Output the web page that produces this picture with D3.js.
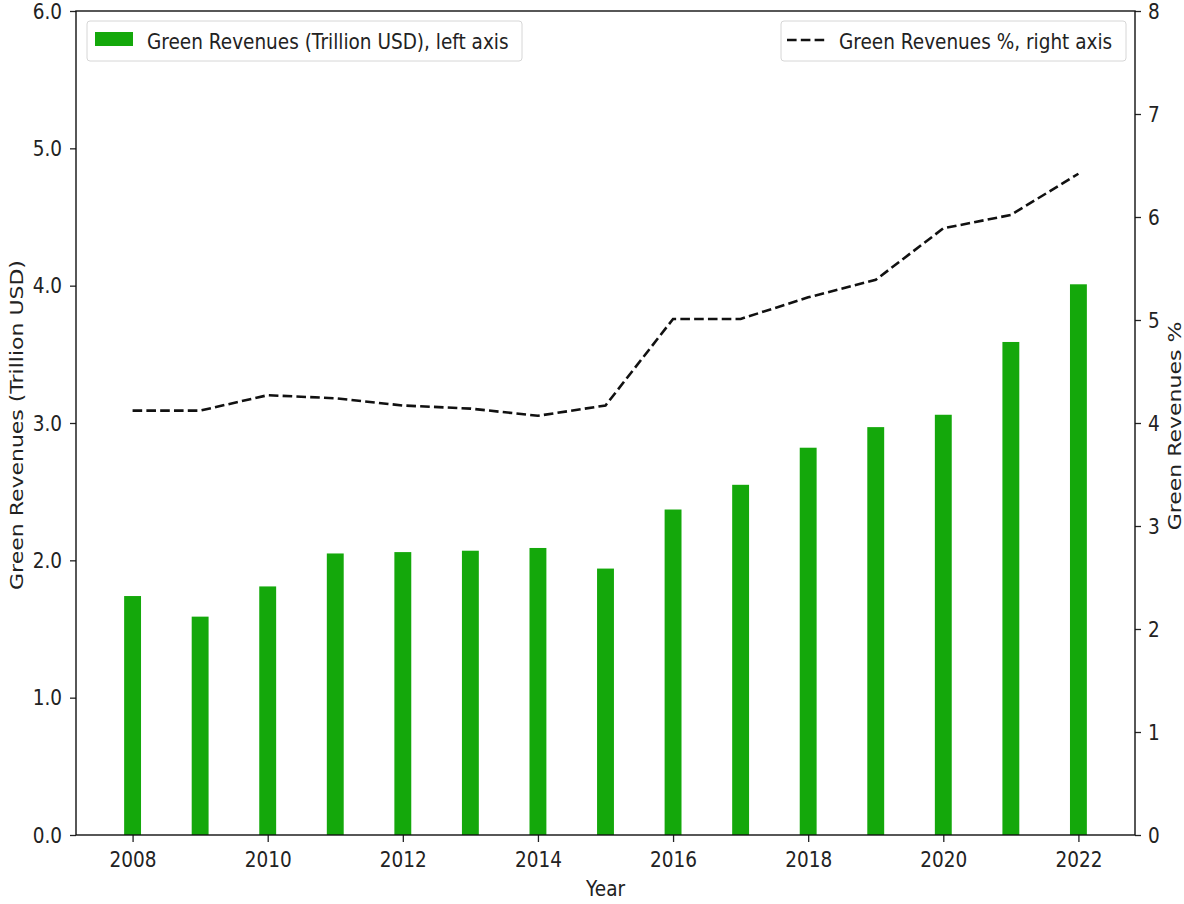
<!DOCTYPE html>
<html><head><meta charset="utf-8">
<script src="https://cdn.jsdelivr.net/npm/d3@7/dist/d3.min.js"></script>
<style>body{margin:0;background:#fff;} text{font-family:"DejaVu Sans",sans-serif;}</style>
</head><body><svg id="c" width="1184" height="904"></svg>
<script>
const years = [2008,2009,2010,2011,2012,2013,2014,2015,2016,2017,2018,2019,2020,2021,2022];
const revenues = [1.74,1.59,1.81,2.05,2.06,2.07,2.09,1.94,2.37,2.55,2.82,2.97,3.06,3.59,4.01];
const revenuePct = [4.12,4.12,4.27,4.24,4.17,4.14,4.07,4.17,5.01,5.01,5.22,5.39,5.89,6.02,6.42];
const leftTicks = [0,1,2,3,4,5,6];
const rightTicks = [0,1,2,3,4,5,6,7,8];
const xTicks = [2008,2010,2012,2014,2016,2018,2020,2022];

const svg = d3.select("#c");
const L = 76, R = 1135, T = 11, B = 835;
const barW = 0.25;
const FS = 22, SX = 0.84;
const x = d3.scaleLinear().domain([2007.1625, 2022.8375]).range([L, R]);
const yL = d3.scaleLinear().domain([0, 6]).range([B, T]);
const yR = d3.scaleLinear().domain([0, 8]).range([B, T]);
const green = "#14a80b";
const txt = "#222";

// place horizontally-compressed text
function htext(g, tx, ty, s, anchor) {
  return g.append("text").attr("transform", `translate(${tx},${ty}) scale(${SX},1)`)
    .attr("text-anchor", anchor || "start").attr("font-size", FS).attr("fill", txt).text(s);
}
function vtext(g, tx, ty, s) {
  return g.append("text").attr("transform", `translate(${tx},${ty}) rotate(-90) scale(1,${SX})`)
    .attr("text-anchor", "middle").attr("font-size", FS).attr("fill", txt).text(s);
}

// bars
svg.append("g").selectAll("rect").data(years).join("rect")
  .attr("x", (d) => x(d - barW/2))
  .attr("width", (d) => x(d + barW/2) - x(d - barW/2))
  .attr("y", (d,i) => yL(revenues[i]))
  .attr("height", (d,i) => B - yL(revenues[i]))
  .attr("fill", green);

// line
const line = d3.line().x((d) => x(d)).y((d,i) => yR(revenuePct[i]));
svg.append("path").datum(years).attr("d", line)
  .attr("fill","none").attr("stroke","#111").attr("stroke-width",2.6)
  .attr("stroke-dasharray","9.6,4.2");

// axes
const gx = svg.append("g").attr("transform",`translate(0,${B})`)
  .call(d3.axisBottom(x).tickValues(xTicks).tickFormat(d3.format("d")).tickSizeOuter(0).tickSize(7));
const gl = svg.append("g").attr("transform",`translate(${L},0)`)
  .call(d3.axisLeft(yL).tickValues(leftTicks).tickFormat(d3.format(".1f")).tickSizeOuter(0).tickSize(6));
const gr = svg.append("g").attr("transform",`translate(${R},0)`)
  .call(d3.axisRight(yR).tickValues(rightTicks).tickFormat(d3.format("d")).tickSizeOuter(0).tickSize(6));
[gx,gl,gr].forEach(g => {
  g.selectAll("line").attr("stroke","#222").attr("stroke-width",1.3);
  g.select(".domain").remove();
  g.selectAll("text").attr("font-size", FS).attr("fill", txt).attr("font-family","DejaVu Sans");
});
gx.selectAll("text").attr("y", null).attr("dy", null).attr("transform", `translate(0,32) scale(${SX},1)`);
gl.selectAll("text").attr("x", null).attr("dy", "0.32em").attr("transform", `translate(-14,0) scale(${SX},1)`);
gr.selectAll("text").attr("x", null).attr("dy", "0.32em").attr("transform", `translate(13,0) scale(${SX},1)`);

// frame
svg.append("rect").attr("x",L).attr("y",T).attr("width",R-L).attr("height",B-T)
  .attr("fill","none").attr("stroke","#111").attr("stroke-width",1.4);

// axis titles
htext(svg, (L+R)/2, 896, "Year", "middle");
vtext(svg, 23, 425, "Green Revenues (Trillion USD)");
vtext(svg, 1181, 426, "Green Revenues %");

// legends
const lg1 = svg.append("g");
lg1.append("rect").attr("x",87).attr("y",21).attr("width",435).attr("height",40).attr("rx",3)
  .attr("fill","#fff").attr("fill-opacity",0.8).attr("stroke","#d6d6d6");
lg1.append("rect").attr("x",95).attr("y",32).attr("width",38).attr("height",14).attr("fill",green);
htext(lg1, 147, 49, "Green Revenues (Trillion USD), left axis");

const lg2 = svg.append("g");
lg2.append("rect").attr("x",781).attr("y",21).attr("width",345).attr("height",40).attr("rx",3)
  .attr("fill","#fff").attr("fill-opacity",0.8).attr("stroke","#d6d6d6");
lg2.append("line").attr("x1",787).attr("x2",828).attr("y1",40).attr("y2",40)
  .attr("stroke","#111").attr("stroke-width",2.6).attr("stroke-dasharray","9.6,4.2");
htext(lg2, 839, 49, "Green Revenues %, right axis");
</script></body></html>
